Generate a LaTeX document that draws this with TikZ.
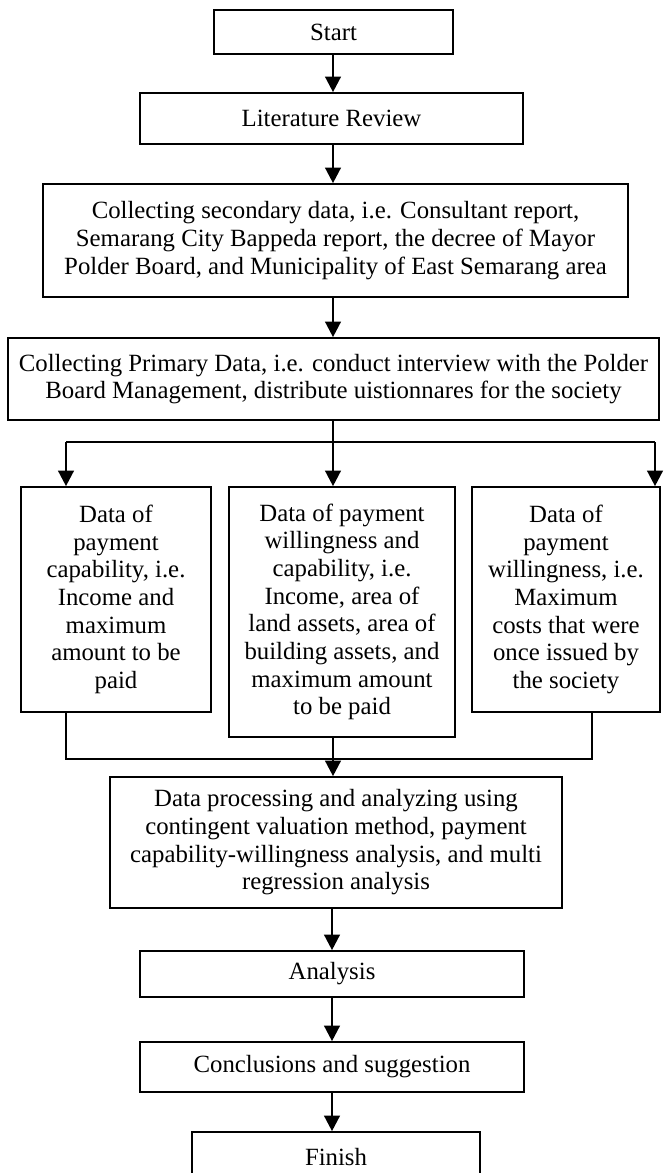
\documentclass[tikz,border=0pt]{standalone}
\usepackage{fontspec}
\setmainfont{Liberation Serif}
\usetikzlibrary{arrows.meta}
\newdimen\pxu
\pxu=0.484pt
\tikzset{box/.style = {draw, line width=0.8pt, inner sep=0, align=center, font=\fontsize{12}{13.4}\selectfont}}
\tikzset{arr/.style = {line width=1.2pt, -{Triangle[width=7.5pt, length=7.5pt]}}}
\tikzset{link/.style = {line width=0.8pt}}

\begin{document}
\begin{tikzpicture}[x=0.484pt, y=-0.484pt]
            \clip (0,0) rectangle (667,1173);
            \coordinate (axis) at (333,0);
            \node [box, minimum width=239\pxu, minimum height=44\pxu] (start) at (333.5,32) {Start};
            \node [box, minimum width=383\pxu, minimum height=51\pxu] (lit) at (331.5,118.5) {Literature Review};
            \node [box, minimum width=585\pxu, minimum height=113\pxu] (sec) at (335.5,240.5) {Collecting secondary data, i.e. Consultant report,\\Semarang City Bappeda report, the decree of Mayor\\Polder Board, and Municipality of East Semarang area};
            \node [box, minimum width=651\pxu, minimum height=82\pxu] (prim) at (333.5,379) {Collecting Primary Data, i.e. conduct interview with the Polder\\Board Management, distribute uistionnares for the society};
            \node [box, minimum width=190\pxu, minimum height=225\pxu] (capab) at (116,599.5) {Data of\\payment\\capability, i.e.\\Income and\\maximum\\amount to be\\paid};
            \node [box, minimum width=226\pxu, minimum height=250\pxu] (both) at (342,612) {Data of payment\\willingness and\\capability, i.e.\\Income, area of\\land assets, area of\\building assets, and\\maximum amount\\to be paid};
            \node [box, minimum width=188\pxu, minimum height=225\pxu] (willing) at (566,599.5) {Data of\\payment\\willingness, i.e.\\Maximum\\costs that were\\once issued by\\the society};
            \node [box, minimum width=452\pxu, minimum height=131\pxu] (proc) at (336,842.5) {Data processing and analyzing using\\contingent valuation method, payment\\capability-willingness analysis, and multi\\regression analysis};
            \node [box, minimum width=384\pxu, minimum height=46\pxu] (ana) at (332,974) {Analysis};
            \node [box, minimum width=384\pxu, minimum height=50\pxu] (concl) at (332,1067) {Conclusions and suggestion};
            \node [box, minimum width=288\pxu, minimum height=50\pxu] (fin) at (336,1157) {Finish};

            \coordinate (split) at (333,442);
            \coordinate (splitl) at (66,442);
            \coordinate (splitr) at (655,442);
            \coordinate (joinl) at (66,759);
            \coordinate (joinr) at (592,759);

            \draw [arr] (start.south -| axis) -- (lit.north -| axis);
            \draw [arr] (lit.south -| axis) -- (sec.north -| axis);
            \draw [arr] (sec.south -| axis) -- (prim.north -| axis);
            \draw [link] (prim.south -| axis) -- (split);
            \draw [link] (splitl) -- (splitr);
            \draw [arr] (splitl) -- (capab.north -| splitl);
            \draw [arr] (split) -- (both.north -| split);
            \draw [arr] (splitr) -- (willing.north -| splitr);
            \draw [link] (capab.south -| joinl) -- (joinl) -- (joinr) -- (willing.south -| joinr);
            \draw [arr] (both.south -| axis) -- (proc.north -| axis);
            \draw [arr] (proc.south -| ana) -- (ana.north);
            \draw [arr] (ana.south) -- (concl.north);
            \draw [arr] (concl.south) -- (fin.north -| concl);
        \end{tikzpicture}
\end{document}
